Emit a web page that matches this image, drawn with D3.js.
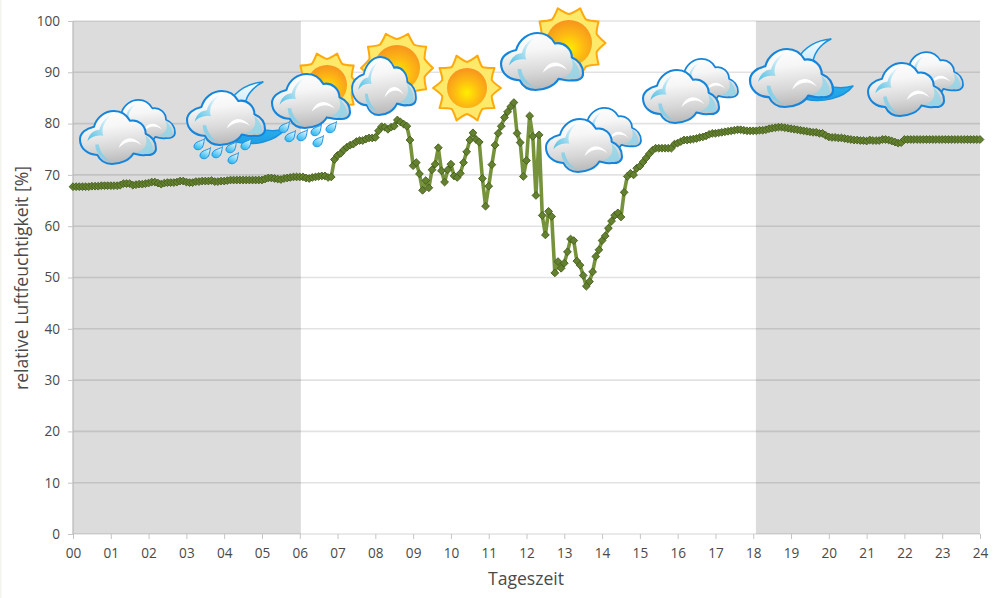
<!DOCTYPE html>
<html><head><meta charset="utf-8">
<script src="https://cdn.jsdelivr.net/npm/d3@7/dist/d3.min.js"></script>
<style>html,body{margin:0;padding:0;background:#fff;overflow:hidden}svg{display:block}text{font-family:"Open Sans",sans-serif}</style>
</head><body><svg id="c" width="1000" height="598"></svg>
<script>
// relative humidity, one reading every 5 minutes, one row per hour
const humidity = [
67.7,67.7,67.7,67.7,67.7,67.7,67.8,67.8,67.8,67.9,67.9,67.9,
67.9,67.9,67.9,68.0,68.3,68.3,68.3,68.0,68.1,68.2,68.2,68.3,
68.4,68.6,68.6,68.4,68.2,68.4,68.5,68.5,68.5,68.6,68.8,68.8,
68.6,68.5,68.5,68.7,68.7,68.8,68.8,68.8,68.9,68.7,68.7,68.8,
68.8,68.9,69.0,69.0,69.0,69.0,69.0,69.0,69.0,69.0,69.0,69.0,
69.0,69.2,69.4,69.4,69.3,69.2,69.1,69.3,69.4,69.5,69.6,69.6,
69.6,69.6,69.4,69.3,69.5,69.6,69.7,69.8,69.8,69.5,69.6,73.0,
73.8,74.2,74.9,75.4,75.8,76.0,76.5,76.7,76.7,77.0,77.2,77.2,
77.3,78.6,79.4,79.3,78.9,79.3,79.5,80.7,80.3,79.9,79.5,76.8,
71.8,72.4,70.2,67.0,68.9,67.5,71.0,72.1,75.3,70.8,68.6,71.0,
72.1,69.8,69.5,70.3,72.4,74.5,76.8,78.2,76.9,76.4,69.3,63.9,
67.8,72.0,75.8,78.1,79.5,81.2,82.3,83.3,84.1,78.1,76.3,69.7,
72.8,81.5,77.5,66.0,77.8,62.1,58.3,62.9,61.9,50.9,53.1,51.8,
52.8,55.0,57.5,57.2,53.2,52.4,50.4,48.3,49.2,51.1,54.1,55.4,
57.2,58.1,59.6,61.0,62.1,62.6,61.8,66.6,69.7,70.3,70.0,71.3,
71.7,72.5,73.3,74.1,74.8,75.2,75.2,75.2,75.2,75.2,75.2,76.0,
76.2,76.5,76.8,76.8,76.9,77.0,77.1,77.3,77.4,77.6,77.9,78.1,
78.1,78.2,78.3,78.4,78.5,78.6,78.7,78.8,78.8,78.7,78.6,78.6,
78.6,78.6,78.7,78.7,78.8,79.0,79.1,79.2,79.3,79.3,79.2,79.1,
79.0,78.9,78.8,78.7,78.6,78.5,78.4,78.3,78.3,78.1,78.1,77.7,
77.4,77.3,77.3,77.2,77.2,77.1,77.0,76.9,76.8,76.8,76.7,76.7,
76.6,76.8,76.7,76.7,76.7,76.9,76.9,76.8,76.6,76.4,76.2,76.3,
76.9,76.9,76.9,76.9,76.9,76.9,76.9,76.9,76.9,76.9,76.9,76.9,
76.9,76.9,76.9,76.9,76.9,76.9,76.9,76.9,76.9,76.9,76.9,76.9,
76.9];
const hourTicks = d3.range(0,25);
const humidityTicks = [0,10,20,30,40,50,60,70,80,90,100];
const nightBands = [[0,6.03],[18.07,24]];
const weatherKinds  = ["pair","rainMoon","sunCloudRain","sunCloud","sun","sunCloud2","pair","pair","moonCloud","pair"];
const weatherHours  = [0.185,3.017,5.266,7.383,10.426,11.326,12.516,15.083,17.914,21.037];
const weatherLevels = [82.46,86.35,89.67,92.98,86.94,97.66,80.90,90.45,94.54,91.81];

const svg = d3.select("#c");
const x = d3.scaleLinear().domain([0,24]).range([73,980]);
const y = d3.scaleLinear().domain([0,100]).range([534,21]);
svg.append("rect").attr("width",1.5).attr("height",598).attr("fill","#f4f4ee");

const defs = svg.append("defs");
function grad(id,stops,a){const g=defs.append("linearGradient").attr("id",id).attr("x1",a[0]).attr("y1",a[1]).attr("x2",a[2]).attr("y2",a[3]);
  stops.forEach(s=>g.append("stop").attr("offset",s[0]).attr("stop-color",s[1]));}
grad("cl",[[0,"#ffffff"],[.35,"#f6f6f6"],[.75,"#d6d6d6"],[1,"#bcbcbc"]],[0,0,.15,1]);
grad("mn",[[0,"#f4fbfe"],[.5,"#bfe6f8"],[.72,"#2cb0ec"],[1,"#1c9fe4"]],[0,0,0,1]);
grad("dr",[[0,"#eafaff"],[1,"#1fb4ee"]],[.7,0,.2,1]);
grad("bl",[[0,"#ffffff"],[1,"#5fc4e6"]],[1,0,0,.8]);
const rg=defs.append("radialGradient").attr("id","sn").attr("cx",.5).attr("cy",.62).attr("r",.62);
[[0,"#ffee00"],[.5,"#fdbb12"],[1,"#f7931e"]].forEach(s=>rg.append("stop").attr("offset",s[0]).attr("stop-color",s[1]));

nightBands.forEach(b=>svg.append("rect").attr("x",x(b[0])).attr("y",y(100)).attr("width",x(b[1])-x(b[0])).attr("height",y(0)-y(100)).attr("fill","#dcdcdc"));

svg.append("g").selectAll("line").data(humidityTicks).join("line")
  .attr("x1",x(0)).attr("x2",x(24)).attr("y1",d=>y(d)).attr("y2",d=>y(d))
  .attr("stroke","#000").attr("stroke-opacity",.115).attr("stroke-width",1.6);

const yAxis = svg.append("g").attr("transform",`translate(${x(0)},0)`)
  .call(d3.axisLeft(y).tickValues(humidityTicks).tickSize(5).tickPadding(8));
const xAxis = svg.append("g").attr("transform",`translate(0,${y(0)})`)
  .call(d3.axisBottom(x).tickValues(hourTicks).tickSize(5).tickPadding(9).tickFormat(d3.format("02d")));
[yAxis,xAxis].forEach(a=>{a.selectAll("text").attr("fill","#4a4a4a").style("font-size","13.6px");
  a.selectAll("line").attr("stroke","#c4c4c4");});
yAxis.select(".domain").attr("stroke","#b8b8b8").attr("stroke-width",1.2).attr("d",`M0,${y(100)}V${y(0)}`);
xAxis.select(".domain").attr("stroke","none");

svg.append("text").attr("transform",`translate(22,278) rotate(-90)`).attr("text-anchor","middle").attr("dy","0.35em")
  .attr("fill","#4a4a4a").style("font-size","17.6px").text("relative Luftfeuchtigkeit [%]");
svg.append("text").attr("x",526).attr("y",585).attr("text-anchor","middle")
  .attr("fill","#4a4a4a").style("font-size","17.6px").text("Tageszeit");

const px = (d,i)=>x(i/12), py = d=>y(d);
svg.append("path").attr("d",d3.line().x(px).y(py)(humidity)).attr("fill","none")
  .attr("stroke","#76933c").attr("stroke-width",3.6).attr("stroke-linejoin","round");
svg.append("g").selectAll("path").data(humidity).join("path")
  .attr("transform",(d,i)=>`translate(${px(d,i)},${py(d)})`)
  .attr("d","M0,-3.9L3.9,0L0,3.9L-3.9,0Z").attr("fill","#64812f").attr("stroke","#445c1d").attr("stroke-width",.9);

// ---- weather pictograms (outline drawn on a 228 x 158 grid) ----
const CLOUD="M0,85C0,66 18,52 42,47C50,18 75,0 102,0C124,0 140,12 150,29C175,24 197,44 197,68C216,76 228,92 228,112C228,128 212,133 196,131C182,134 170,128 160,127C150,146 122,158 96,158C76,158 60,148 52,131C24,131 0,112 0,85Z";
function cloud(g,cx,cy,w,h){
  const c=g.append("g").attr("transform",`translate(${cx},${cy}) scale(${w/228},${h/158})`);
  c.append("path").attr("d",CLOUD).attr("fill","url(#cl)").attr("stroke","#1585dc").attr("stroke-width",6).attr("stroke-linejoin","round");
  c.append("path").attr("d","M98,10C78,18 64,34 58,56C44,56 28,66 22,90C34,76 50,70 70,74C62,52 74,28 98,10Z").attr("fill","url(#bl)");
  c.append("path").attr("d","M46,100C46,124 62,144 94,150C74,140 60,122 56,100Z").attr("fill","#7fd0ea").attr("opacity",.85);
  c.append("path").attr("d","M116,110C128,78 160,70 184,102C160,84 136,90 116,110Z").attr("fill","#fff");
  c.append("path").attr("d","M196,72C212,86 222,104 218,124C206,127 188,126 168,124C194,118 206,98 196,72Z").attr("fill","#8fd6ea").attr("opacity",.8);
}
function sun(g,cx,cy,R,r){
  const s=g.append("g").attr("transform",`translate(${cx},${cy})`);
  let d=""; const n=10, v=r+6;
  for(let i=0;i<n;i++){const a=i*2*Math.PI/n, a2=(i+1)*2*Math.PI/n, m=(a+a2)/2;
    const P=(an,q)=>`${(q*Math.cos(an)).toFixed(2)},${(q*Math.sin(an)).toFixed(2)}`;
    d+=(i?"L":"M")+P(a,R)+"Q"+P(a+.2,v+1)+" "+P(m,v)+"Q"+P(a2-.2,v+1)+" "+P(a2,R);}
  s.append("path").attr("d",d+"Z").attr("fill","#ffe96b").attr("stroke","#ffa90d").attr("stroke-width",2).attr("stroke-linejoin","round");
  s.append("circle").attr("r",r).attr("fill","url(#sn)");
}
function moon(g,tx,ty){
  g.append("path").attr("transform",`translate(${tx},${ty})`)
   .attr("d","M0,0C-14,1 -27,8 -33,20L-26,60C-10,64 12,60 22,47C4,52 -14,46 -18,30C-20,15 -10,5 0,0Z")
   .attr("fill","url(#mn)").attr("stroke","#1a92e0").attr("stroke-width",1.5).attr("stroke-linejoin","round");
}
const DROPS=[[12,53],[18,62],[30,61],[44,56],[46,67],[59,53]];
function drops(g,cx,cy){DROPS.forEach(p=>g.append("path").attr("transform",`translate(${cx+p[0]},${cy+p[1]})`)
  .attr("d","M5.5,-5.5C4,-3 -5,-3 -5,2.5C-5,5.5 -1,6.5 1.5,5C5,3 4.5,-2 5.5,-5.5Z").attr("fill","url(#dr)").attr("stroke","#1a8fe0").attr("stroke-width",1));}

const weather = {
  pair:(g,a,b)=>{cloud(g,a+29,b-11,66,46);cloud(g,a,b,76,53);},
  rainMoon:(g,a,b)=>{moon(g,a+76,b-9);drops(g,a,b);cloud(g,a,b,78,54);},
  sunCloudRain:(g,a,b)=>{sun(g,a+55,b+11,33,20);drops(g,a,b);cloud(g,a,b,78,54);},
  sunCloud:(g,a,b)=>{sun(g,a+45,b+11,36,23);cloud(g,a,b,64,58);},
  sun:(g,a,b)=>sun(g,a,b,34,20),
  sunCloud2:(g,a,b)=>{sun(g,a+68,b+10,36.5,23);cloud(g,a,b,82,57);},
  moonCloud:(g,a,b)=>{moon(g,a+81,b-10);cloud(g,a,b,83,58);}
};
weatherKinds.forEach((k,i)=>weather[k](svg.append("g"),x(weatherHours[i]),y(weatherLevels[i])));
</script></body></html>
